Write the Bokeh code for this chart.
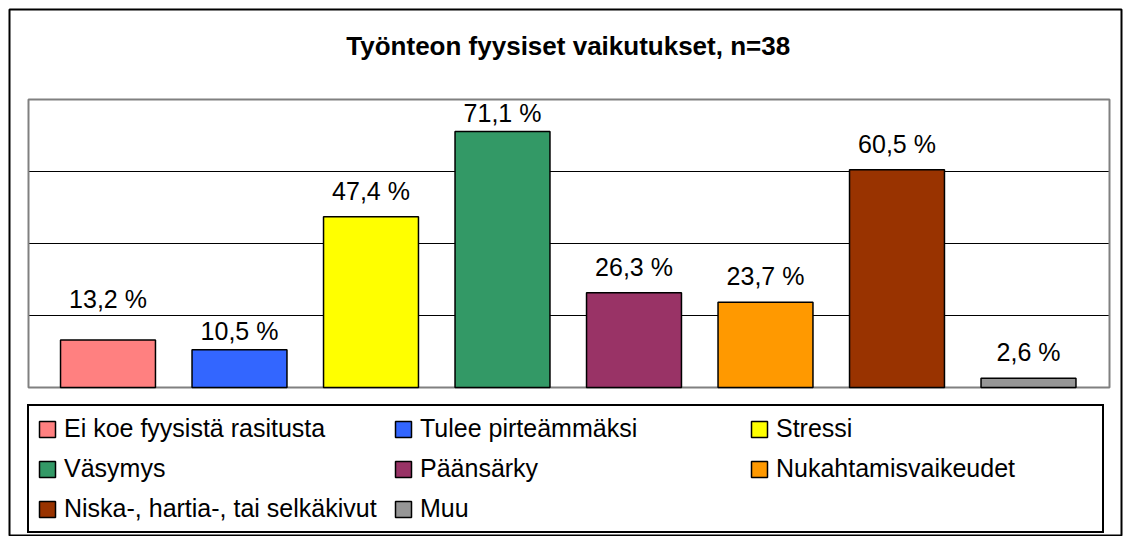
from bokeh.plotting import figure
from bokeh.models import ColumnDataSource, Range1d, LabelSet, Label
from bokeh.core.properties import value
from bokeh.embed import file_html
from bokeh.resources import INLINE

# ---- data ----
categories = ["Ei koe fyysistä rasitusta", "Tulee pirteämmäksi", "Stressi",
              "Väsymys", "Päänsärky", "Nukahtamisvaikeudet",
              "Niska-, hartia-, tai selkäkivut", "Muu"]
values = [13.2, 10.5, 47.4, 71.1, 26.3, 23.7, 60.5, 2.6]
colors = ["#FF8080", "#3366FF", "#FFFF00", "#339966",
          "#993366", "#FF9900", "#993300", "#969696"]
title_text = "Työnteon fyysiset vaikutukset, n=38"
y_max = 80
grid_ticks = [20, 40, 60]

# label placement tweaks in pixels (as placed in the original chart)
label_gap_px = 16.7
label_nudge_px = [15, -6.7, 0, -7.4, 0, 0, 0, 0]

n = len(categories)
xs = [i + 0.5 for i in range(n)]
labels = [f"{v:.1f}".replace(".", ",") + " %" for v in values]

FONT = "Liberation Sans, Arial, sans-serif"

# layout in pixels
FR_L, FR_R, FR_T, FR_B = 9, 1121, 9, 536        # chart box (frame)
BOX_L, BOX_R, BOX_T, BOX_B = 28, 1109, 99, 387  # plot area box
SLOT_L, SLOT_R = 41.75, 1093.75                 # category slots

px_per_cat = (SLOT_R - SLOT_L) / n
px_per_unit = (BOX_B - BOX_T) / y_max
x_start = -(SLOT_L - FR_L) / px_per_cat
x_end = n + (FR_R - SLOT_R) / px_per_cat
box_left = -(SLOT_L - BOX_L) / px_per_cat
box_right = n + (BOX_R - SLOT_R) / px_per_cat
y_end = (BOX_B - FR_T) / px_per_unit
y_start = -(FR_B - BOX_B) / px_per_unit

label_y = [v + (label_gap_px + d) / px_per_unit for v, d in zip(values, label_nudge_px)]

src = ColumnDataSource(dict(x=xs, cat=categories, val=values, color=colors,
                            lab=labels, ly=label_y))

p = figure(width=1124, height=536, output_backend="svg", toolbar_location=None,
           x_range=Range1d(x_start, x_end), y_range=Range1d(y_start, y_end),
           min_border_left=FR_L, min_border_right=1124 - FR_R, min_border_top=FR_T,
           min_border_bottom=0,
           background_fill_color="white", border_fill_color="white")
p.axis.visible = False
p.grid.visible = False
p.outline_line_color = "black"
p.outline_line_width = 2

# plot area box and gridlines
k = len(grid_ticks)
p.segment(x0=[box_left] * k, x1=[box_right] * k,
          y0=grid_ticks, y1=grid_ticks, line_color="black", line_width=1)
p.quad(left=[box_left], right=[box_right], bottom=[0], top=[y_max], fill_color=None,
       line_color="#808080", line_width=2)

p.vbar(x="x", top="val", width=0.722, source=src, fill_color="color",
       line_color="black", line_width=1.5, legend_field="cat")

p.add_layout(LabelSet(x="x", y="ly", text="lab", source=src,
                      text_align="center", text_baseline="alphabetic",
                      text_font=value(FONT), text_font_size=value("25px"),
                      text_color="black"))

title_baseline_px = 45
p.add_layout(Label(x=n / 2, y=(BOX_B - title_baseline_px) / px_per_unit,
                   text=title_text,
                   text_align="center", text_baseline="alphabetic",
                   text_font=FONT, text_font_size="26px", text_font_style="bold",
                   text_color="black"))

lg = p.legend[0]
lg.orientation = "horizontal"
lg.ncols = 3
lg.location = (18, 3)
lg.border_line_color = "black"
lg.border_line_alpha = 1
lg.border_line_width = 2
lg.background_fill_color = "white"
lg.background_fill_alpha = 1
lg.padding = 8
lg.spacing = 11
lg.margin = 0
lg.glyph_width = 20
lg.glyph_height = 20
lg.label_height = 20
lg.label_width = 318
lg.label_standoff = 7
lg.label_text_font = FONT
lg.label_text_font_size = "25px"
lg.label_text_color = "black"

open("out.html", "w").write(file_html(p, INLINE))
